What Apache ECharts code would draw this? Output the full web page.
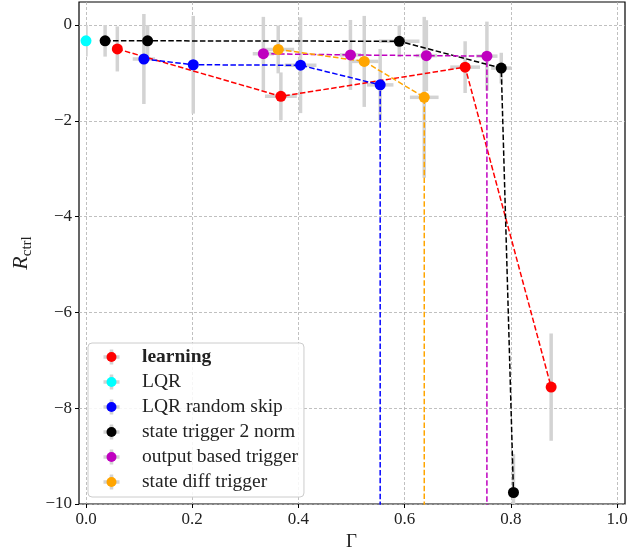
<!DOCTYPE html>
<html><head><meta charset="utf-8">
<script src="https://cdn.jsdelivr.net/npm/echarts@6/dist/echarts.min.js"></script>
<style>html,body{margin:0;padding:0;background:#fff}#c{width:638px;height:548px}</style>
</head><body><div id="c"></div>
<script>
// ---- data ----
const seriesNames = ['learning', 'LQR', 'LQR random skip', 'state trigger 2 norm', 'output based trigger', 'state diff trigger'];
const seriesColors = ['#ff0000', '#00ffff', '#0000ff', '#000000', '#bf00bf', '#ffa500'];

const learningX = [0.059, 0.367, 0.714, 0.876];
const learningY = [-0.50, -1.49, -0.88, -7.56];
const learningXerr = [0.005, 0.030, 0.028, 0.004];
const learningYerr = [0.47, 0.50, 0.54, 1.12];

const lqrX = [0.0];
const lqrY = [-0.33];
const lqrXerr = [0.0];
const lqrYerr = [0.33];

// last point lies far below the visible range (line drops off the chart)
const skipX = [0.109, 0.202, 0.404, 0.554, 0.554];
const skipY = [-0.71, -0.83, -0.84, -1.25, -30];
const skipXerr = [0.021, 0.010, 0.030, 0.025, 0];
const skipYerr = [0.94, 1.02, 1.00, 0.75, 0];

const normX = [0.036, 0.116, 0.590, 0.782, 0.805];
const normY = [-0.33, -0.33, -0.34, -0.90, -9.76];
const normXerr = [0.004, 0.010, 0.038, 0.019, 0.010];
const normYerr = [0.33, 0.33, 0.33, 0.32, 0.80];

const outX = [0.334, 0.498, 0.641, 0.755, 0.755];
const outY = [-0.60, -0.625, -0.64, -0.65, -30];
const outXerr = [0.020, 0.020, 0.020, 0.020, 0];
const outYerr = [0.77, 0.73, 0.74, 0.72, 0];

const diffX = [0.362, 0.524, 0.637, 0.637];
const diffY = [-0.51, -0.76, -1.51, -30];
const diffXerr = [0.030, 0.027, 0.027, 0];
const diffYerr = [0.50, 0.95, 1.68, 0];

const xTicks = [0, 0.2, 0.4, 0.6, 0.8, 1.0];
const yTicks = [-10, -8, -6, -4, -2, 0];

// ---- build ----
const groups = [
  [learningX, learningY, learningXerr, learningYerr],
  [lqrX, lqrY, lqrXerr, lqrYerr],
  [skipX, skipY, skipXerr, skipYerr],
  [normX, normY, normXerr, normYerr],
  [outX, outY, outXerr, outYerr],
  [diffX, diffY, diffXerr, diffYerr]
];

const FONT = 'Liberation Serif';
const gridLine = {show: true, lineStyle: {color: '#b0b0b0', width: 0.8, type: [3, 2]}};

function errRender(params, api) {
  const x = api.value(0), y = api.value(1), xe = api.value(2), ye = api.value(3);
  const top = api.coord([x, y + ye]), bot = api.coord([x, y - ye]);
  const l = api.coord([x - xe, y]), r = api.coord([x + xe, y]);
  const style = {stroke: '#d3d3d3', lineWidth: 3.5, fill: null};
  return {type: 'group', children: [
    {type: 'line', shape: {x1: top[0], y1: top[1], x2: bot[0], y2: bot[1]}, style: style},
    {type: 'line', shape: {x1: l[0], y1: l[1], x2: r[0], y2: r[1]}, style: style}
  ]};
}

const series = [];
groups.forEach((g, i) => {
  const data = g[0].map((x, k) => [x, g[1][k], g[2][k], g[3][k]]);
  series.push({
    type: 'custom', name: seriesNames[i] + ' err', xAxisIndex: 1, yAxisIndex: 1,
    renderItem: errRender, data: data, clip: true, z: 1, silent: true,
    encode: {x: 0, y: 1}
  });
});
groups.forEach((g, i) => {
  series.push({
    type: 'line', name: seriesNames[i], xAxisIndex: 1, yAxisIndex: 1,
    data: g[0].map((x, k) => [x, g[1][k]]),
    symbol: 'circle', symbolSize: 11, showAllSymbol: true, clip: true, z: 3,
    itemStyle: {color: seriesColors[i]},
    lineStyle: {color: seriesColors[i], width: 1.5, type: [5.5, 2.4]},
    emphasis: {disabled: true}
  });
});

function legendIcon(color) {
  const svg = "<svg xmlns='http://www.w3.org/2000/svg' width='17' height='17'>" +
    "<path d='M8.5 1V16M0.5 8.5H16.5' stroke='#d3d3d3' stroke-width='3.5'/>" +
    "<circle cx='8.5' cy='8.5' r='5' fill='" + color + "'/></svg>";
  return 'image://data:image/svg+xml;charset=utf-8,' + encodeURIComponent(svg);
}

const fmtMinus = s => String(s).replace('-', '\u2212');

const option = {
  animation: false,
  backgroundColor: '#fff',
  grid: [
    {left: 79, right: 13, top: 2, bottom: 44, outerBoundsMode: 'none', containLabel: false,
     show: true, borderColor: '#000', borderWidth: 1.2, backgroundColor: 'transparent'},
    {left: 86, right: 21, top: 2, bottom: 44, outerBoundsMode: 'none', containLabel: false}
  ],
  xAxis: [
    {gridIndex: 0, type: 'value', min: 0, max: 1, show: false, axisLine: {onZero: false}},
    {gridIndex: 1, type: 'value', min: xTicks[0], max: xTicks[xTicks.length - 1], interval: 0.2,
     position: 'bottom',
     axisLine: {show: false, onZero: false},
     axisTick: {show: true, length: 4, lineStyle: {color: '#000', width: 1}},
     axisLabel: {color: '#222', fontFamily: FONT, fontSize: 17, margin: 7, formatter: v => v.toFixed(1)},
     splitLine: gridLine,
     name: 'Γ', nameLocation: 'middle', nameGap: 24,
     nameTextStyle: {color: '#222', fontFamily: FONT, fontSize: 19}}
  ],
  yAxis: [
    {gridIndex: 0, type: 'value', min: yTicks[0], max: 0.48, interval: 2,
     axisLine: {show: false, onZero: false},
     axisTick: {show: true, length: 4, lineStyle: {color: '#000', width: 1}, customValues: yTicks},
     axisLabel: {color: '#222', fontFamily: FONT, fontSize: 17, margin: 7, customValues: yTicks,
                 formatter: v => fmtMinus(Math.round(v))},
     splitLine: gridLine,
     name: '{r|R}{s|ctrl}', nameLocation: 'middle', nameGap: 36, nameRotate: 90,
     nameTextStyle: {color: '#222', fontFamily: FONT,
       rich: {r: {fontFamily: FONT, fontStyle: 'italic', fontSize: 22, lineHeight: 26, verticalAlign: 'middle', color: '#222'},
              s: {fontFamily: FONT, fontSize: 15, lineHeight: 26, verticalAlign: 'bottom', color: '#222'}}}},
    {gridIndex: 1, type: 'value', min: -10, max: 0.48, show: false, splitLine: {show: false}, axisLine: {onZero: false}}
  ],
  legend: {
    data: seriesNames.map((n, i) => ({name: n, icon: legendIcon(seriesColors[i])})),
    orient: 'vertical', left: 88, top: 343,
    itemWidth: 17, itemHeight: 17, itemGap: 5,
    selectedMode: false,
    backgroundColor: 'rgba(255,255,255,0.85)', borderColor: '#cccccc', borderWidth: 1, borderRadius: 4,
    padding: [4, 6, 5, 15],
    formatter: n => n === 'learning' ? '{b|learning}' : n,
    textStyle: {color: '#222', fontFamily: FONT, fontSize: 19.5, lineHeight: 20, padding: [0, 0, 0, 17],
      rich: {b: {fontWeight: 'bold', fontFamily: FONT, fontSize: 19.5, color: '#222'}}}
  },
  series: series
};

const chart = echarts.init(document.getElementById('c'), null, {renderer: 'canvas'});
chart.setOption(option);
</script>
</body></html>
